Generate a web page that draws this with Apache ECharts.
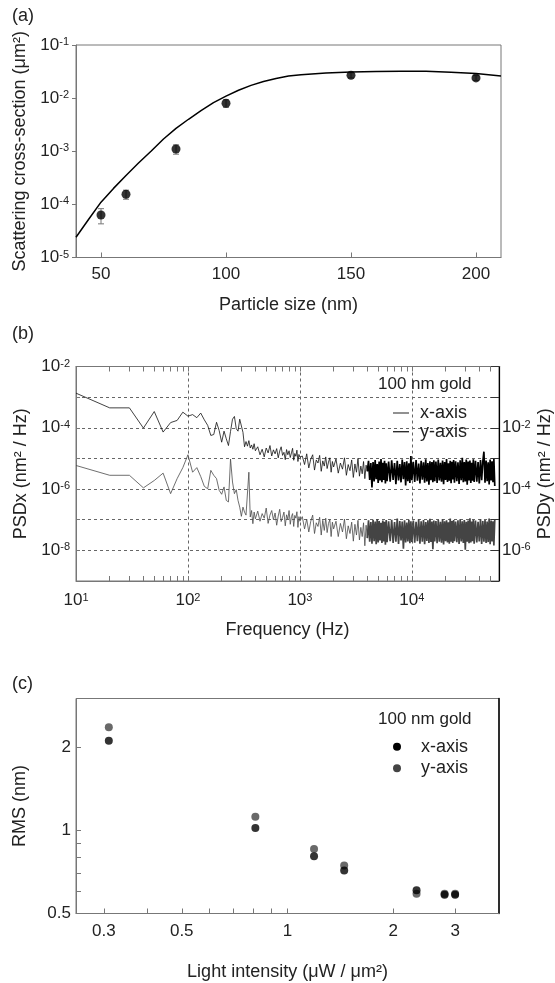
<!DOCTYPE html>
<html><head><meta charset="utf-8">
<script src="https://cdn.jsdelivr.net/npm/echarts@6/dist/echarts.min.js"></script>
<style>html,body{margin:0;padding:0;background:#fff}#c{width:555px;height:983px}</style>
</head><body><div id="c"></div>
<script>
// ---------- Panel (a): scattering cross-section ----------
const sizeNm = [50, 60, 80, 100, 150, 200];
const crossSection = [6.3e-5, 1.55e-4, 1.1e-3, 8.0e-3, 0.027, 0.024];
const crossSectionErr = [2.0e-5, 0.3e-4, 0.22e-3, 1.3e-3, 3e-3, 2.5e-3];
const theorySize = [40, 45, 50, 55, 60, 65, 70, 75, 80, 85, 90, 95, 100, 105, 110, 115, 120, 125, 130, 140, 150, 160, 170, 180, 190, 200, 210];
const theoryCross = [2.4e-5, 5.2e-5, 1.1e-4, 2.0e-4, 3.5e-4, 6.0e-4, 1.0e-3, 1.7e-3, 2.7e-3, 4.0e-3, 5.8e-3, 8.2e-3, 0.0109, 0.0141, 0.0174, 0.0206, 0.0235, 0.026, 0.0275, 0.0298, 0.031, 0.0317, 0.032, 0.0319, 0.0308, 0.029, 0.026];
const sizeTicks = [50, 100, 150, 200];

// ---------- Panel (b): PSD ----------
const freqHz = [
 10,20,30,40,50,60,70,80,90,100,110,120,130,140,150,160,170,180,190,200,
 210,220,230,240,250,260,270,280,290,300,310,320,330,340,350,360,370,380,390,400,
 420,440,460,480,500,520,540,560,580,600,620,640,660,680,700,720,740,760,780,800,
 820,840,860,880,900,920,940,960,980,1000,
 1050,1100,1150,1200,1250,1300,1350,1400,1450,1500,1550,1600,1650,1700,1750,1800,1850,1900,1950,2000,
 2100,2200,2300,2400,2500,2600,2700,2800,2900,3000,3100,3200,3300,3400,3500,3600,3700,3800,3900,4000,
 4100,4200,4300,4400,4500,4600,4700,4800,4900,5000,5100,5200,5300,5400,5500,5600,5700,5800,5900,6000,
 6200,6400,6600,6800,7000,7200,7400,7600,7800,8000,8200,8400,8600,8800,9000,9200,9400,9600,9800,10000,
 10300,10600,10900,11200,11500,11800,12100,12400,12700,13000,13300,13600,13900,14200,14500,14800,15100,15400,15700,16000,
 16400,16800,17200,17600,18000,18400,18800,19200,19600,20000,20400,20800,21200,21600,22000,22400,22800,23200,23600,24000,
 24600,25200,25800,26400,27000,27600,28200,28800,29400,30000,30600,31200,31800,32400,33000,33600,34200,34800,35400,36000,
 37000,38000,39000,40000,41000,42000,43000,44000,45000,46000,47000,48000,49000,50000,51000,52000,53000,54000,55000
];
// log10 of PSDx (nm^2/Hz), left axis
const psdxLog10 = [
 -2.87,-3.35,-3.35,-4.01,-3.47,-4.14,-3.83,-3.76,-3.49,-3.62,
 -3.57,-3.67,-3.52,-3.74,-3.92,-4.25,-4.22,-3.82,-4.09,-4.47,
 -4.11,-4.36,-4.58,-4.12,-3.72,-3.63,-4.03,-4.11,-3.72,-3.66,
 -4.15,-4.62,-4.45,-4.60,-4.42,-4.66,-4.56,-4.70,-4.52,-4.75,
 -4.62,-4.88,-4.70,-4.95,-4.66,-4.82,-4.58,-4.92,-4.72,-4.85,
 -4.68,-4.98,-4.76,-4.62,-4.90,-4.80,-5.04,-4.71,-4.88,-4.75,
 -4.97,-4.82,-4.67,-5.06,-4.84,-4.93,-4.73,-5.10,-4.87,-4.96,
 -4.92,-5.20,-4.85,-5.31,-5.02,-4.88,-5.38,-5.05,-5.15,-4.90,
 -5.42,-5.08,-5.25,-4.95,-5.33,-5.12,-4.98,-5.45,-5.10,-5.28,
 -5.02,-5.48,-5.15,-5.35,-4.98,-5.55,-5.20,-5.40,-5.05,-5.62,
 -5.18,-5.45,-5.00,-5.58,-5.25,-5.50,-5.10,-5.66,-5.22,-5.42,
 -5.08,-5.70,-5.15,-5.95,-5.12,-5.75,-5.05,-5.68,-5.18,-5.80,
 -5.10,-5.72,-5.02,-5.78,-5.14,-5.70,-5.08,-5.82,-5.16,-5.74,
 -5.10,-5.76,-5.06,-5.70,-5.15,-5.84,-5.08,-5.72,-5.18,-5.78,
 -5.04,-5.68,-5.12,-5.88,-5.09,-5.74,-5.16,-5.80,-4.92,-5.71,
 -5.11,-5.77,-5.05,-5.73,-5.17,-5.82,-5.08,-5.69,-5.13,-5.79,
 -5.03,-5.75,-5.15,-5.86,-5.09,-5.71,-5.12,-5.78,-5.06,-5.74,
 -5.10,-5.80,-5.04,-5.72,-5.14,-5.76,-5.07,-5.84,-5.12,-5.70,
 -5.02,-5.77,-5.16,-5.73,-5.08,-5.81,-5.11,-5.69,-5.05,-5.79,
 -5.09,-5.74,-5.13,-5.83,-5.06,-5.71,-4.98,-5.78,-5.12,-5.75,
 -5.04,-5.86,-5.10,-5.72,-5.07,-5.80,-5.14,-5.73,-5.03,-5.77,
 -5.08,-5.76,-5.12,-5.82,-5.05,-5.71,-5.10,-4.78,-5.79,-5.07,
 -5.74,-5.13,-5.85,-5.04,-5.72,-5.09,-5.78,-5.02,-5.90
];
// log10 of PSDy (nm^2/Hz), right axis
const psdyLog10 = [
 -3.23,-3.55,-3.55,-3.96,-3.72,-3.48,-4.15,-3.66,-3.30,-2.88,
 -3.45,-3.30,-3.59,-3.91,-3.99,-3.39,-3.55,-3.66,-4.04,-4.17,
 -3.93,-4.37,-4.42,-3.02,-3.77,-4.15,-4.02,-4.37,-4.59,-4.89,
 -4.59,-4.75,-4.85,-4.80,-3.45,-4.91,-4.70,-5.13,-4.75,-4.97,
 -4.72,-5.05,-4.80,-4.95,-4.62,-5.12,-4.85,-4.70,-5.00,-4.78,
 -5.18,-4.88,-4.66,-5.06,-4.92,-4.75,-5.20,-4.84,-4.98,-4.70,
 -5.15,-4.90,-4.80,-5.22,-4.86,-4.95,-4.74,-5.25,-4.90,-5.05,
 -4.90,-5.30,-4.98,-5.40,-5.05,-4.85,-5.45,-5.10,-5.22,-4.92,
 -5.50,-5.02,-5.35,-4.95,-5.42,-5.12,-5.00,-5.55,-5.08,-5.30,
 -5.05,-5.55,-5.12,-5.40,-4.98,-5.62,-5.20,-5.45,-5.08,-5.70,
 -5.15,-5.50,-5.02,-5.66,-5.25,-5.55,-5.10,-5.85,-5.18,-5.60,
 -5.02,-5.72,-5.08,-5.78,-5.00,-5.70,-5.06,-5.80,-4.98,-5.74,
 -5.04,-5.68,-5.10,-5.76,-5.03,-5.71,-5.07,-5.82,-5.01,-5.73,
 -5.05,-5.70,-5.00,-5.76,-5.08,-5.72,-4.96,-5.79,-5.04,-5.68,
 -5.06,-5.95,-5.02,-5.74,-5.09,-5.71,-5.00,-5.77,-5.05,-5.73,
 -5.03,-5.75,-5.07,-5.70,-4.99,-5.78,-5.05,-5.72,-5.01,-5.80,
 -5.08,-5.69,-5.02,-5.76,-4.97,-5.73,-5.06,-5.96,-5.03,-5.71,
 -5.04,-5.77,-5.00,-5.72,-5.07,-5.75,-4.98,-5.81,-5.05,-5.70,
 -5.02,-5.74,-5.08,-5.78,-4.96,-5.72,-5.04,-5.76,-5.01,-5.70,
 -5.06,-5.73,-5.02,-5.79,-4.99,-5.71,-5.05,-5.76,-5.01,-5.98,
 -5.07,-5.72,-5.03,-5.77,-4.95,-5.74,-5.06,-5.70,-5.00,-5.78,
 -5.03,-5.74,-5.07,-5.71,-4.98,-5.79,-5.04,-5.72,-5.01,-5.76,
 -5.06,-5.73,-4.96,-5.80,-5.03,-5.71,-5.05,-5.84,-5.00
];
const freqLabelTicks = [10, 100, 1000, 10000];
const freqGridTicks = [100, 1000, 10000];
const freqMinorTicks = [10,20,30,40,50,60,70,80,90,100,200,300,400,500,600,700,800,900,1000,2000,3000,4000,5000,6000,7000,8000,9000,10000,20000,30000,40000,50000];
const denseFromHz = 4000; // above this the recorded spectrum is a dense band

// ---------- Panel (c): RMS ----------
const intensity = [0.31, 0.81, 1.19, 1.45, 2.33, 2.8, 3.0];
const rmsX = [2.11, 1.02, 0.805, 0.715, 0.607, 0.585, 0.585];
const rmsY = [2.36, 1.12, 0.856, 0.746, 0.59, 0.59, 0.59];
const intensityLabels = [0.3, 0.5, 1, 2, 3];
const intensityTicks = [0.3, 0.4, 0.5, 0.6, 0.7, 0.8, 0.9, 1, 2, 3];
const rmsLabels = [0.5, 1, 2];
const rmsTicks = [0.6, 0.7, 0.8, 0.9, 1, 2];

// ---------- Chart ----------
const FONT = '"Liberation Sans", Arial, sans-serif';
const TEXT = '#222';
const GRAY = '#777';
const supRich = { s: { fontSize: 11, verticalAlign: 'top', color: TEXT, fontFamily: FONT, lineHeight: 12 } };
const pow10Label = v => '10{s|' + Math.round(Math.log10(v)) + '}';
const nameStyle = { fontSize: 18, color: TEXT, fontFamily: FONT };
const labelBase = { fontSize: 17, color: TEXT, fontFamily: FONT };
const titleStyle = { fontSize: 18, fontWeight: 'normal', color: TEXT, fontFamily: FONT };
const legendTitleStyle = { fontSize: 17, fontWeight: 'normal', color: TEXT, fontFamily: FONT };

const psdx = freqHz.map((f, i) => [f, Math.pow(10, psdxLog10[i])]);
const psdy = freqHz.map((f, i) => [f, Math.pow(10, psdyLog10[i])]);

const chart = echarts.init(document.getElementById('c'), null, { renderer: 'canvas' });
chart.setOption({
  animation: false,
  textStyle: { fontFamily: FONT },
  title: [
    { text: '(a)', left: 12, top: 7, padding: 0, textStyle: titleStyle },
    { text: '(b)', left: 12, top: 325.5, padding: 0, textStyle: titleStyle },
    { text: '(c)', left: 12, top: 675.5, padding: 0, textStyle: titleStyle },
    { text: '100 nm gold', left: 378, top: 376, padding: 0, textStyle: legendTitleStyle },
    { text: '100 nm gold', left: 378, top: 711, padding: 0, textStyle: legendTitleStyle }
  ],
  legend: [
    {
      data: [
        { name: 'x-axis', icon: 'rect', itemStyle: { color: '#555', borderWidth: 0 } },
        { name: 'y-axis', icon: 'rect', itemStyle: { color: '#222', borderWidth: 0 } }
      ],
      orient: 'vertical', left: 393, top: 404, padding: 0, itemGap: 0.7,
      itemWidth: 16, itemHeight: 1.3, selectedMode: false,
      textStyle: { fontSize: 18, color: TEXT, lineHeight: 18, padding: [0, 0, 0, 6] }
    },
    {
      data: [
        { name: 'x-axis', icon: 'circle', itemStyle: { color: '#000', borderWidth: 0 } },
        { name: 'y-axis', icon: 'circle', itemStyle: { color: '#444', borderWidth: 0 } }
      ],
      orient: 'vertical', left: 393, top: 737.7, padding: 0, itemGap: 3.6,
      itemWidth: 8, itemHeight: 8, selectedMode: false,
      textStyle: { fontSize: 18, color: TEXT, lineHeight: 18, padding: [0, 0, 0, 15] }
    }
  ],
  grid: [
    { left: 76, top: 45, width: 425, height: 212.5, show: true, borderColor: GRAY, borderWidth: 1, outerBoundsMode: 'none', containLabel: false },
    { left: 76, top: 366.5, width: 423, height: 214.5, show: true, borderColor: GRAY, borderWidth: 1, outerBoundsMode: 'none', containLabel: false },
    { left: 76, top: 698.5, width: 423, height: 215, show: true, borderColor: GRAY, borderWidth: 1, outerBoundsMode: 'none', containLabel: false }
  ],
  xAxis: [
    { // (a)
      gridIndex: 0, type: 'value', min: 40, max: 210,
      axisLine: { lineStyle: { color: GRAY } },
      axisTick: { customValues: sizeTicks, inside: true, length: 5, lineStyle: { color: GRAY } },
      axisLabel: { customValues: sizeTicks, margin: 8, ...labelBase },
      splitLine: { show: false },
      name: 'Particle size (nm)', nameLocation: 'middle', nameGap: 39, nameTextStyle: nameStyle
    },
    { // (b) bottom, labels + minor ticks
      gridIndex: 1, type: 'log', logBase: 10, min: 10, max: 60000, position: 'bottom',
      axisLine: { lineStyle: { color: GRAY } },
      axisTick: { customValues: freqMinorTicks, inside: true, length: 5, lineStyle: { color: GRAY } },
      axisLabel: { customValues: freqLabelTicks, margin: 11, formatter: pow10Label, rich: supRich, ...labelBase },
      splitLine: { show: false },
      name: 'Frequency (Hz)', nameLocation: 'middle', nameGap: 40, nameTextStyle: nameStyle
    },
    { // (b) top ticks
      gridIndex: 1, type: 'log', logBase: 10, min: 10, max: 60000, position: 'top',
      axisLine: { lineStyle: { color: GRAY } },
      axisTick: { customValues: freqMinorTicks, inside: true, length: 5, lineStyle: { color: GRAY } },
      axisLabel: { show: false }, splitLine: { show: false }
    },
    { // (b) dashed decade grid lines
      gridIndex: 1, type: 'log', logBase: 10, min: 10, max: 60000, position: 'bottom',
      axisLine: { show: false }, axisLabel: { show: false },
      axisTick: { show: false, customValues: freqGridTicks },
      splitLine: { show: true, lineStyle: { color: '#666', type: [3, 3], width: 1 } }
    },
    { // (c)
      gridIndex: 2, type: 'log', logBase: 10, min: 0.25, max: 4,
      axisLine: { lineStyle: { color: GRAY } },
      axisTick: { customValues: intensityTicks, inside: true, length: 5, lineStyle: { color: GRAY } },
      axisLabel: { customValues: intensityLabels, margin: 9, formatter: v => String(v), ...labelBase },
      splitLine: { show: false },
      name: 'Light intensity (\u03bcW / \u03bcm\u00b2)', nameLocation: 'middle', nameGap: 50, nameTextStyle: nameStyle
    }
  ],
  yAxis: [
    { // (a)
      gridIndex: 0, type: 'log', logBase: 10, min: 1e-5, max: 1e-1,
      axisLine: { lineStyle: { color: GRAY } },
      axisTick: { inside: false, length: 4, lineStyle: { color: GRAY } },
      axisLabel: { margin: 7, formatter: pow10Label, rich: supRich, ...labelBase },
      splitLine: { show: false },
      name: 'Scattering cross-section (\u03bcm\u00b2)', nameLocation: 'middle', nameGap: 46, nameTextStyle: nameStyle
    },
    { // (b) left PSDx
      gridIndex: 1, type: 'log', logBase: 10, min: 1e-9, max: 1e-2, position: 'left',
      axisLine: { lineStyle: { color: GRAY } },
      axisTick: { inside: true, length: 4, lineStyle: { color: GRAY } },
      axisLabel: { margin: 6, formatter: v => { const e = Math.round(Math.log10(v)); return (e % 2 === 0 && e <= -2 && e >= -8) ? pow10Label(v) : ''; }, rich: supRich, ...labelBase },
      splitLine: { show: true, lineStyle: { color: '#666', type: [3, 3], width: 1 } },
      name: 'PSDx (nm\u00b2 / Hz)', nameLocation: 'middle', nameGap: 44, nameTextStyle: nameStyle
    },
    { // (b) right PSDy
      gridIndex: 1, type: 'log', logBase: 10, min: 1e-7, max: 1, position: 'right',
      axisLine: { lineStyle: { color: '#000', width: 1.2 } },
      axisTick: { inside: true, length: 8, lineStyle: { color: '#333' } },
      axisLabel: { margin: 3, formatter: v => { const e = Math.round(Math.log10(v)); return (e === -2 || e === -4 || e === -6) ? pow10Label(v) : ''; }, rich: supRich, ...labelBase },
      splitLine: { show: false },
      name: 'PSDy (nm\u00b2 / Hz)', nameLocation: 'middle', nameGap: 37, nameMoveOverlap: false, nameTextStyle: nameStyle
    },
    { // (c) left RMS
      gridIndex: 2, type: 'log', logBase: 10, min: 0.5, max: 3,
      axisLine: { lineStyle: { color: GRAY } },
      axisTick: { customValues: rmsTicks, inside: true, length: 5, lineStyle: { color: GRAY } },
      axisLabel: { customValues: rmsLabels, margin: 5, formatter: v => String(v), ...labelBase },
      splitLine: { show: false },
      name: 'RMS (nm)', nameLocation: 'middle', nameGap: 47, nameTextStyle: nameStyle
    },
    { // (c) right border
      gridIndex: 2, type: 'log', logBase: 10, min: 0.5, max: 3, position: 'right',
      axisLine: { lineStyle: { color: '#000', width: 1.5 } },
      axisTick: { show: false }, axisLabel: { show: false }, splitLine: { show: false }
    }
  ],
  series: [
    {
      type: 'custom', xAxisIndex: 0, yAxisIndex: 0, z: 2,
      data: sizeNm.map((s, i) => [s, crossSection[i], crossSectionErr[i]]),
      encode: { x: 0, y: 1 },
      renderItem: (params, api) => {
        const x = api.value(0), y = api.value(1), e = api.value(2);
        const top = api.coord([x, y + e]);
        const bot = api.coord([x, y - e]);
        const cap = 3;
        const st = { stroke: '#777', lineWidth: 1 };
        return { type: 'group', children: [
          { type: 'line', shape: { x1: top[0], y1: top[1], x2: bot[0], y2: bot[1] }, style: st },
          { type: 'line', shape: { x1: top[0] - cap, y1: top[1], x2: top[0] + cap, y2: top[1] }, style: st },
          { type: 'line', shape: { x1: bot[0] - cap, y1: bot[1], x2: bot[0] + cap, y2: bot[1] }, style: st }
        ] };
      }
    },
    {
      type: 'scatter', xAxisIndex: 0, yAxisIndex: 0, z: 3, symbolSize: 9,
      itemStyle: { color: '#000' },
      data: sizeNm.map((s, i) => [s, crossSection[i]])
    },
    {
      type: 'line', xAxisIndex: 0, yAxisIndex: 0, z: 4, symbol: 'none',
      lineStyle: { color: '#000', width: 1.5 },
      data: theorySize.map((s, i) => [s, theoryCross[i]])
    },
    {
      name: 'x-axis', type: 'line', xAxisIndex: 1, yAxisIndex: 1, symbol: 'none', z: 4,
      lineStyle: { color: '#111', width: 0.8 }, itemStyle: { color: '#111' },
      data: psdx.filter(d => d[0] <= denseFromHz)
    },
    {
      name: 'x-axis', type: 'line', xAxisIndex: 1, yAxisIndex: 1, symbol: 'none', z: 4,
      lineStyle: { color: '#000', width: 1.7 }, itemStyle: { color: '#000' },
      data: psdx.filter(d => d[0] >= denseFromHz)
    },
    {
      name: 'y-axis', type: 'line', xAxisIndex: 1, yAxisIndex: 2, symbol: 'none', z: 3,
      lineStyle: { color: '#4a4a4a', width: 0.8 }, itemStyle: { color: '#4a4a4a' },
      data: psdy.filter(d => d[0] <= denseFromHz)
    },
    {
      name: 'y-axis', type: 'line', xAxisIndex: 1, yAxisIndex: 2, symbol: 'none', z: 3,
      lineStyle: { color: '#444', width: 1.7 }, itemStyle: { color: '#444' },
      data: psdy.filter(d => d[0] >= denseFromHz)
    },
    {
      name: 'y-axis', type: 'scatter', xAxisIndex: 4, yAxisIndex: 3, symbolSize: 8,
      itemStyle: { color: '#444' },
      data: intensity.map((v, i) => [v, rmsY[i]])
    },
    {
      name: 'x-axis', type: 'scatter', xAxisIndex: 4, yAxisIndex: 3, symbolSize: 8,
      itemStyle: { color: '#000' },
      data: intensity.map((v, i) => [v, rmsX[i]])
    }
  ]
});
</script>
</body></html>
